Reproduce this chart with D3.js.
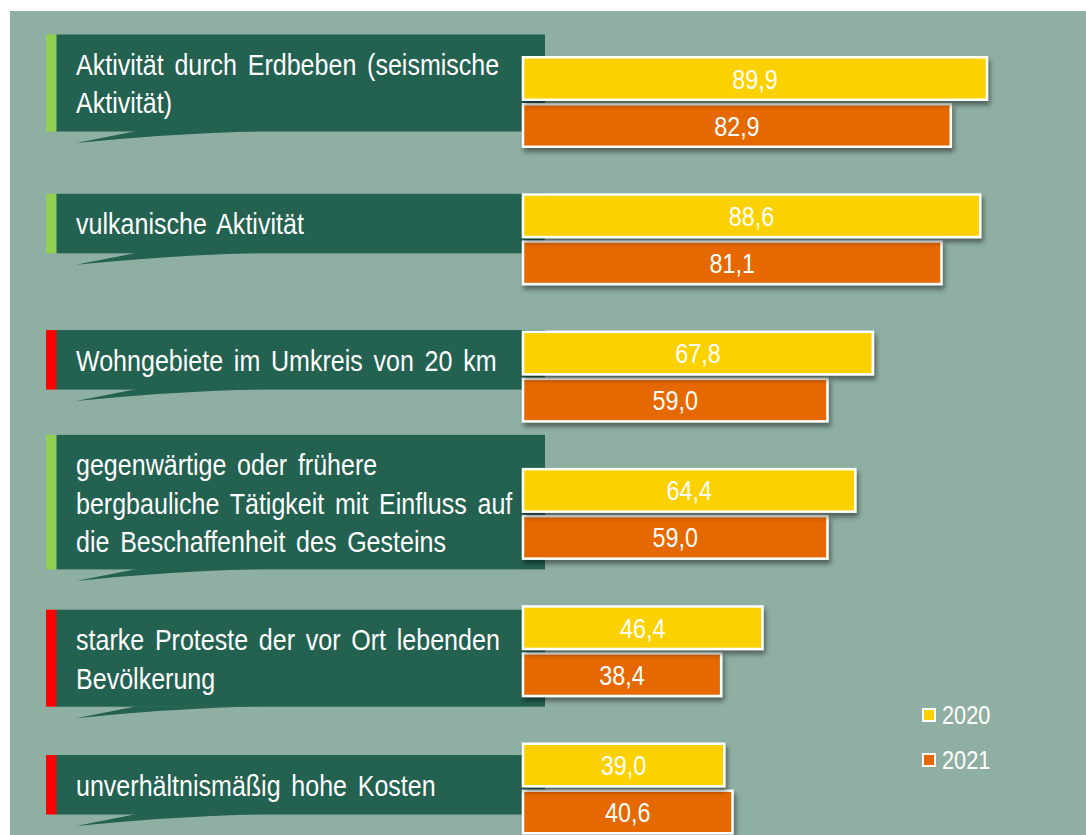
<!DOCTYPE html>
<html>
<head>
<meta charset="utf-8">
<script src="https://cdn.jsdelivr.net/npm/d3@7"></script>
<style>
  body { margin: 0; background: #fff; }
  svg { display: block; }
  text { font-family: "Liberation Sans Narrow", "Arial Narrow", "Liberation Sans", Arial, sans-serif; fill: #fff; }
</style>
</head>
<body>
<svg id="canvas" width="1086" height="835"></svg>
<script>
let categories = [
  'Aktivität durch Erdbeben (seismische Aktivität)',
  'vulkanische Aktivität',
  'Wohngebiete im Umkreis von 20 km',
  'gegenwärtige oder frühere bergbauliche Tätigkeit mit Einfluss auf die Beschaffenheit des Gesteins',
  'starke Proteste der vor Ort lebenden Bevölkerung',
  'unverhältnismäßig hohe Kosten'
]
let labelLines = [
  ['Aktivität durch Erdbeben (seismische', 'Aktivität)'],
  ['vulkanische Aktivität'],
  ['Wohngebiete im Umkreis von 20 km'],
  ['gegenwärtige oder frühere', 'bergbauliche Tätigkeit mit Einfluss auf', 'die Beschaffenheit des Gesteins'],
  ['starke Proteste der vor Ort lebenden', 'Bevölkerung'],
  ['unverhältnismäßig hohe Kosten']
]
let markers = ['green', 'green', 'red', 'green', 'red', 'red']
let years = ['2020', '2021']
let values2020 = [89.9, 88.6, 67.8, 64.4, 46.4, 39.0]
let values2021 = [82.9, 81.1, 59.0, 59.0, 38.4, 40.6]

let colors = { '2020': '#fcd100', '2021': '#e56705' }
let markerColors = { green: '#92d050', red: '#ff0000' }
// label box offsets from group centre (the original boxes sit a bit unevenly)
let boxShift = [-67.5, -45.5, -46.5, -79, -41.5, -33.5]

let canvas = d3.select('#canvas')

let x = d3.scaleLinear().domain([0, 100]).range([523, 1039])
let y = d3.scalePoint().domain(categories).range([102, 788.5])
let fmt = (v) => d3.format('.1f')(v).replace('.', ',')

// no narrow font installed, so squeeze the regular one
let narrow = 0.835
let place = (px, py) => 'translate(' + px + ',' + py + ') scale(' + narrow + ',1)'

let defs = canvas.append('defs')
let shadow = defs.append('filter').attr('id', 'shadow')
  .attr('x', '-5%').attr('y', '-20%').attr('width', '115%').attr('height', '160%')
shadow.append('feDropShadow')
  .attr('dx', 2).attr('dy', 4).attr('stdDeviation', 2.5)
  .attr('flood-color', '#000').attr('flood-opacity', 0.45)

// panel
canvas.append('rect')
  .attr('x', 10).attr('y', 11).attr('width', 1076).attr('height', 824)
  .attr('fill', '#8fafa3')

let lineH = 38.4

// label boxes
let boxes = canvas.selectAll('g.label')
  .data(categories)
  .enter()
  .append('g')
  .attr('class', 'label')
  .attr('transform', (d, i) => 'translate(0,' + (y(d) + boxShift[i]) + ')')

boxes.each(function (d, i) {
  let g = d3.select(this)
  let h = 22 + 37.5 * labelLines[i].length
  g.append('rect')
    .attr('x', 56).attr('y', 0).attr('width', 489).attr('height', h)
    .attr('fill', '#236150')
  g.append('path')
    .attr('d', 'M137,' + (h - 0.5) + ' L76,' + (h + 11.5) + ' Q170,' + (h + 2) + ' 262,' + (h - 0.5) + ' Z')
    .attr('fill', '#236150')
  g.append('rect')
    .attr('x', 46).attr('y', 0).attr('width', 10.5).attr('height', h)
    .attr('fill', markerColors[markers[i]])
  g.selectAll('text')
    .data(labelLines[i])
    .enter()
    .append('text')
    .attr('transform', (t, j) => place(76, 40.5 + j * lineH))
    .attr('font-size', 30)
    .attr('word-spacing', 4.5)
    .text((t) => t)
})

// bars
let barH = 42.5
let groups = canvas.selectAll('g.bars')
  .data(categories)
  .enter()
  .append('g')
  .attr('class', 'bars')

groups.append('rect')
  .attr('x', x(0))
  .attr('y', (d) => y(d) + 2.25)
  .attr('width', (d, i) => x(values2021[i]) - x(0))
  .attr('height', barH)
  .attr('fill', colors['2021'])
  .attr('stroke', '#fff').attr('stroke-width', 2.5)
  .attr('filter', 'url(#shadow)')

groups.append('rect')
  .attr('x', x(0))
  .attr('y', (d) => y(d) - 2.25 - barH)
  .attr('width', (d, i) => x(values2020[i]) - x(0))
  .attr('height', barH)
  .attr('fill', colors['2020'])
  .attr('stroke', '#fff').attr('stroke-width', 2.5)
  .attr('filter', 'url(#shadow)')

groups.append('text')
  .attr('transform', (d, i) => place((x(0) + x(values2020[i])) / 2, y(d) - 2.25 - barH / 2 + 10))
  .attr('text-anchor', 'middle')
  .attr('font-size', 28)
  .text((d, i) => fmt(values2020[i]))

groups.append('text')
  .attr('transform', (d, i) => place((x(0) + x(values2021[i])) / 2, y(d) + 2.25 + barH / 2 + 10))
  .attr('text-anchor', 'middle')
  .attr('font-size', 28)
  .text((d, i) => fmt(values2021[i]))

// legend
let legend = canvas.selectAll('g.legend')
  .data(years)
  .enter()
  .append('g')
  .attr('class', 'legend')
  .attr('transform', (d, i) => 'translate(922,' + (715 + i * 45) + ')')

legend.append('rect')
  .attr('x', 1).attr('y', -6).attr('width', 12).attr('height', 12)
  .attr('fill', (d) => colors[d])
  .attr('stroke', '#fff').attr('stroke-width', 2)

legend.append('text')
  .attr('transform', place(20, 9))
  .attr('font-size', 26)
  .text((d) => d)
</script>
</body>
</html>
